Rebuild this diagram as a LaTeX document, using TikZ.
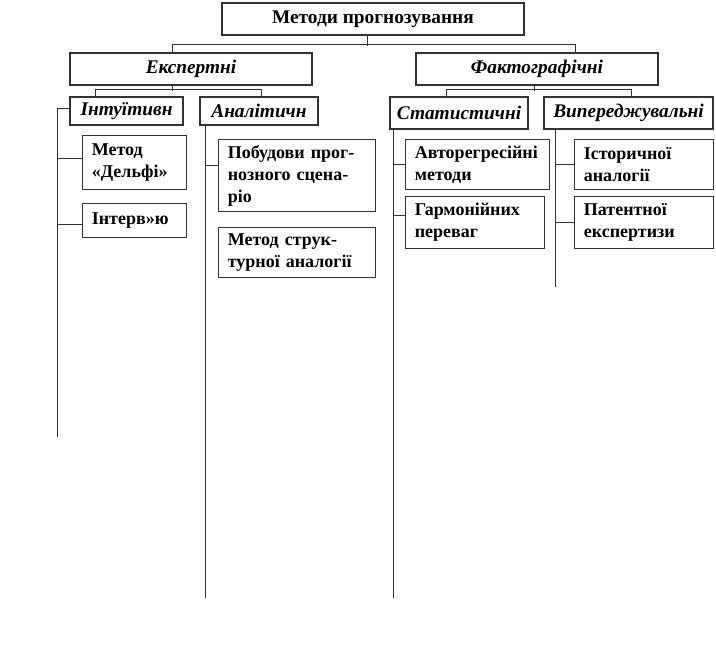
\documentclass[tikz,border=0pt]{standalone}
\usepackage{fontspec}
\setmainfont{Liberation Serif}
\usetikzlibrary{positioning}

\begin{document}
\begin{tikzpicture}[x=0.75pt, y=-0.75pt,
  rootbox/.style={draw=black!80, line width=0.8pt, minimum width=226.5pt, minimum height=24pt, font=\fontsize{14.5}{16}\selectfont\bfseries, align=center},
  grpbox/.style={draw=black!80, line width=0.8pt, minimum width=181.5pt, minimum height=24pt, font=\fontsize{14.5}{16}\selectfont\bfseries\itshape, align=center},
  subbox/.style={draw=black!80, line width=0.8pt, minimum height=21pt, inner sep=1pt, font=\fontsize{14.5}{16}\selectfont\bfseries\itshape, align=center},
  leaf/.style={draw=black!80, line width=0.8pt, anchor=north west, inner xsep=7pt, inner ysep=2pt, font=\fontsize{13.5}{16.5}\selectfont\bfseries, align=left},
  conn/.style={draw=black!80, line width=0.7pt}
]
  \useasboundingbox (0,0) rectangle (716,660);

  % 1. Root
  \node[rootbox] (root) at (373,19) {Методи прогнозування};

  % 2. Groups
  \node[grpbox] (exp) at (191,69) {Експертні};
  \node[grpbox] (fakt) at (537,69) {Фактографічні};

  \draw[conn] ([xshift=-4.5pt]root.south) -- ++(0,10);
  \draw[conn] ([xshift=-14.25pt]exp.north) -- ++(0,-8) -| ([xshift=28.5pt]fakt.north);

  % 3. Subgroups
  \node[subbox, minimum width=84.75pt] (intu) at (126.5,111) {Інтуїтивн};
  \node[subbox, minimum width=88.5pt] (anal) at (259,111) {Аналітичн};
  \node[subbox, minimum width=103.5pt, minimum height=24pt] (stat) at (459,113) {Статистичні};
  \node[subbox, minimum width=126.75pt, minimum height=24pt] (vyp) at (628.5,113) {Випереджувальні};

  \draw[conn] ([xshift=-14.25pt]exp.south) -- ++(0,5);
  \draw[conn] ([xshift=-23.6pt]intu.north) -- ++(0,-7) -| ([xshift=1.5pt]anal.north);
  \draw[conn] ([xshift=-2.25pt]fakt.south) -- ++(0,5);
  \draw[conn] ([xshift=-9.75pt]stat.north) -- ++(0,-7) -| ([xshift=1.9pt]vyp.north);

  % 4. Leaves
  \node[leaf, minimum width=78pt, minimum height=40.5pt, text width=64pt] (delfi) at (82,135) {Метод\\«Дельфі»};
  \node[leaf, minimum width=78pt, minimum height=25.5pt, text width=64pt] (interv) at (82,203) {Інтерв»ю};
  \node[leaf, minimum width=117.75pt, minimum height=54pt, text width=103.75pt] (scen) at (218,139) {Побудови прог-\\нозного сцена-\\ріо};
  \node[leaf, minimum width=117.75pt, minimum height=37.5pt, text width=103.75pt] (struct) at (218,227) {Метод струк-\\турної аналогії};
  \node[leaf, minimum width=108pt, minimum height=37.5pt, text width=94pt] (auto) at (405,139) {Авторегресійні\\методи};
  \node[leaf, minimum width=104.25pt, minimum height=39pt, text width=90.25pt] (garm) at (405,196) {Гармонійних\\переваг};
  \node[leaf, minimum width=104.25pt, minimum height=37.5pt, text width=90.25pt] (hist) at (574,139) {Історичної\\аналогії};
  \node[leaf, minimum width=104.25pt, minimum height=39pt, text width=90.25pt] (pat) at (574,196) {Патентної\\експертизи};

  % Spines
  \coordinate (intuEnd) at (57,437);
  \coordinate (analEnd) at (205,598);
  \coordinate (statEnd) at (393,598);
  \coordinate (vypEnd) at (555,287);

  \draw[conn] ([yshift=2.25pt]intu.west) -| (intuEnd);
  \draw[conn] (anal.south -| analEnd) -- (analEnd);
  \draw[conn] (stat.south -| statEnd) -- (statEnd);
  \draw[conn] (vyp.south -| vypEnd) -- (vypEnd);

  % Branches
  \draw[conn] ([yshift=3pt]delfi.west) -- ([yshift=3pt]delfi.west -| intuEnd);
  \draw[conn] ([yshift=-3pt]interv.west) -- ([yshift=-3pt]interv.west -| intuEnd);
  \draw[conn] ([yshift=7.5pt]scen.west) -- ([yshift=7.5pt]scen.west -| analEnd);
  \draw[conn] (auto.west) -- (auto.west -| statEnd);
  \draw[conn] ([yshift=5pt]garm.west) -- ([yshift=5pt]garm.west -| statEnd);
  \draw[conn] (hist.west) -- (hist.west -| vypEnd);
  \draw[conn] (pat.west) -- (pat.west -| vypEnd);

\end{tikzpicture}
\end{document}
